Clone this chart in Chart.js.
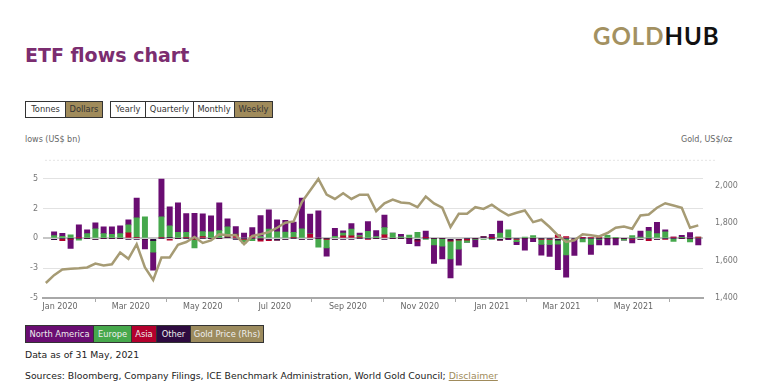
<!DOCTYPE html>
<html><head><meta charset="utf-8">
<script src="https://cdn.jsdelivr.net/npm/chart.js@4"></script>
<style>
body{margin:0;width:769px;height:386px;position:relative;background:#fff;font-family:"DejaVu Sans",sans-serif;overflow:hidden}
.abs{position:absolute;white-space:nowrap}
#title{left:25px;top:44px;font-size:19px;font-weight:bold;color:#7b2d70}
#logo{left:593px;top:21px;font-family:Lato,sans-serif;font-weight:700;font-size:24px;letter-spacing:1px}
#logo .g{color:#a39161}#logo .h{color:#111}
.grp{position:absolute;display:flex;border:1px solid #333;height:15px}
.grp div{font-size:8.3px;line-height:15px;text-align:center;color:#333;border-left:1px solid #333;box-sizing:border-box}
.grp div:first-child{border-left:none}
.sel{background:#a08b5b}
.leg{position:absolute;display:flex;border:1px solid #333;height:16px;top:325px;left:25px}
.leg div{font-size:8.3px;line-height:16px;text-align:center;color:#eee;border-left:1px solid #333;box-sizing:border-box}
.leg div:first-child{border-left:none}
.axt{font-size:8px;color:#666;top:135px}
.note{font-size:9.3px;color:#222;left:25px}
#wrap{position:absolute;left:0;top:150px;width:769px;height:166px}
a{color:#a08b5b;text-decoration:underline}
</style></head><body>
<div class="abs" id="title">ETF flows chart</div>
<div class="abs" id="logo"><span class="g">GOLD</span><span class="h">HUB</span></div>
<div class="grp" style="left:25px;top:101px"><div style="width:39px">Tonnes</div><div class="sel" style="width:37px">Dollars</div></div>
<div class="grp" style="left:110px;top:101px"><div style="width:34px">Yearly</div><div style="width:48px">Quarterly</div><div style="width:41px">Monthly</div><div class="sel" style="width:38px">Weekly</div></div>
<div class="abs axt" style="left:25px">lows (US$ bn)</div>
<div class="abs axt" style="left:681px">Gold, US$/oz</div>
<div id="wrap"><canvas id="c" width="769" height="166"></canvas></div>
<div class="leg"><div style="width:67px;background:#6a0d72">North America</div><div style="width:38px;background:#46a84c">Europe</div><div style="width:25px;background:#b3002d">Asia</div><div style="width:34px;background:#2e0b40">Other</div><div style="width:73px;background:#9c8b5e">Gold Price (Rhs)</div></div>
<div class="abs note" style="top:349px">Data as of 31 May, 2021</div>
<div class="abs note" style="top:370px">Sources: Bloomberg, Company Filings, ICE Benchmark Administration, World Gold Council; <a>Disclaimer</a></div>
<script>
// ---- data (US$ bn weekly flows; gold US$/oz) ----
const weekStart = '2019-12-27';   // first weekly bar
const goldStart = '2019-12-20';   // first gold price point
const northAmerica = [0.33,0.25,-0.8,1.05,0.33,0.5,0.58,0.64,0.66,0.42,1.66,-0.8,-1.5,3.16,1.58,2.47,1.58,2.1,1.5,1.33,2.33,0.68,0.64,0.45,0.7,1.75,1.6,1.0,0.97,0.87,2.58,1.66,2.3,-0.7,0.66,0.17,0.45,0.2,0.83,0.5,1.05,0,0.22,-0.45,-0.4,0.55,-1.55,-1.08,-1.58,-1.35,0,-0.65,0,0.28,1.0,-0.12,-0.25,-1.0,-0.28,-0.9,-1.0,-2.15,-1.88,-1.35,0,-0.85,-0.5,-0.55,-0.55,0,-0.28,0.5,0.33,0.95,0.17,0,0.2,0.48,-0.55];
const europe = [0.22,0.17,0.3,-0.15,0.39,0.8,0.39,0.33,0.39,0.66,1.63,1.8,-0.97,1.72,0.97,0.5,0.42,-0.75,0.42,0.55,0.64,0.83,0.05,-0.28,-0.2,0.15,0.78,0.55,0.53,0.42,0.8,0.05,-0.75,-0.75,0.17,0.25,0.58,0.14,0.58,0.15,0.6,0.45,0.12,0.28,0.5,-0.1,-0.55,-0.65,-1.5,-0.75,-0.2,-0.08,-0.1,-0.05,0.45,0.72,-0.18,0.1,0.22,-0.45,-0.42,-0.33,-1.38,0,-0.3,-0.5,-0.05,0.25,0.08,-0.15,0.22,0.1,0.6,0.4,0.55,-0.25,0.05,-0.3,0];
const asia = [0,-0.2,-0.05,0.08,0,0,0,0,0,0.47,0.08,0,0,0.08,-0.15,0,0.08,-0.05,0.14,0,0,0.05,0.3,-0.1,0.2,-0.18,-0.1,0,0,0.08,0,0.33,0,-0.05,0,0.2,0.2,0.1,-0.08,0,0.3,0,0,0,-0.08,0.05,0,0,-0.08,-0.07,-0.15,0,0,0.05,0,0,-0.1,0,0,-0.06,-0.1,0.3,0.15,-0.08,0.08,0.08,0.08,0,0,0,-0.1,0,-0.2,0,-0.08,0.1,0,0,0.1];
const other = [-0.12,0,0,0,0,-0.08,0,0,0,-0.1,-0.08,-0.08,-0.2,0,0.08,0,0,0,0,0,0,0.08,-0.05,0,0,-0.05,-0.1,-0.15,-0.1,0,-0.08,-0.08,0,0,-0.08,-0.1,-0.1,0,0,0,-0.1,0,0,0,-0.15,0,0,0,-0.15,-0.08,0,0,0.12,0,-0.15,0,0,0,0,0,0,-0.15,0,0,0,0,0,0,0,0,0,-0.1,0,-0.1,0,0,0,0,0];
const goldPrice = [1480,1522,1552,1556,1559,1563,1584,1574,1580,1643,1609,1687,1563,1496,1616,1616,1684,1699,1726,1694,1708,1740,1735,1735,1687,1731,1740,1752,1775,1802,1809,1912,1974,2036,1952,1929,1959,1929,1952,1952,1864,1906,1926,1910,1906,1885,1942,1905,1882,1779,1850,1850,1885,1876,1898,1867,1841,1855,1867,1805,1818,1779,1735,1699,1708,1740,1735,1729,1747,1775,1782,1770,1841,1846,1882,1906,1894,1882,1775,1788];
const xTickDates = ['2020-01-01','2020-03-01','2020-05-01','2020-07-01','2020-09-01','2020-11-01','2021-01-01','2021-03-01','2021-05-01'];
const xTickLabels = ['Jan 2020','Mar 2020','May 2020','Jul 2020','Sep 2020','Nov 2020','Jan 2021','Mar 2021','May 2021'];
const yTicks = [-5,-2.5,0,2.5,5];
const yTickLabels = ['-5','-3','0','2','5'];
const y2Ticks = [1400,1600,1800,2000];
const y2TickLabels = ['1,400','1,600','1,800','2,000'];

const DAY = 86400000, BASE = Date.UTC(2020,0,1);
const dayNum = s => (Date.parse(s + 'T00:00:00Z') - BASE) / DAY;
const w0 = dayNum(weekStart), g0 = dayNum(goldStart);
const barX = northAmerica.map((_, i) => w0 + 7 * i);
const goldX = goldPrice.map((_, i) => g0 + 7 * i);
const tickDays = xTickDates.map(dayNum);
const pts = (arr, xs) => arr.map((v, i) => ({x: xs[i], y: v}));

const topLine = {
  id: 'topLine',
  beforeDraw(chart) {
    const c = chart.ctx, t = chart.chartArea.top;
    c.save(); c.strokeStyle = '#e4e4e4'; c.lineWidth = 1; c.setLineDash([2, 2]);
    c.beginPath(); c.moveTo(45, t + 0.5); c.lineTo(715, t + 0.5); c.stroke(); c.restore();
  }
};
const bar = (label, data, color) => ({type: 'bar', label, data: pts(data, barX), backgroundColor: color, barThickness: 5.3, borderWidth: 0, yAxisID: 'y', order: 1});
const tickFont = {family: 'DejaVu Sans', size: 8};

new Chart(document.getElementById('c'), {
  type: 'bar',
  data: {datasets: [
    bar('Other', other, '#2e0b40'),
    bar('Asia', asia, '#b3002d'),
    bar('Europe', europe, '#46a84c'),
    bar('North America', northAmerica, '#6a0d72'),
    {type: 'line', label: 'Gold Price (Rhs)', data: pts(goldPrice, goldX), yAxisID: 'y2', borderColor: '#a69b74', borderWidth: 2.5, pointRadius: 0, tension: 0, order: 0}
  ]},
  options: {
    responsive: false, animation: false, events: [],
    layout: {padding: {top: 9, left: 0, right: 0, bottom: 0}},
    plugins: {legend: {display: false}, tooltip: {enabled: false}},
    scales: {
      x: {type: 'linear', min: -14.4, max: 545, stacked: true, offset: false,
        afterBuildTicks: s => { s.ticks = tickDays.map(v => ({value: v})); },
        afterFit: s => { s.height = 18; },
        ticks: {autoSkip: false, maxRotation: 0, padding: 0, color: '#666', font: tickFont,
          callback: (v, i) => xTickLabels[i]},
        grid: {drawOnChartArea: false, drawTicks: true, tickLength: 4, color: '#aaa'},
        border: {display: true, color: '#a8a8a8', width: 2}
      },
      y: {position: 'left', stacked: true, min: -5, max: 6.58,
        afterBuildTicks: s => { s.ticks = yTicks.map(v => ({value: v})); },
        afterFit: s => { s.width = 43; },
        ticks: {padding: 5, color: '#777', font: tickFont, callback: (v, i) => yTickLabels[i]},
        grid: {drawTicks: false, color: c => c.tick && c.tick.value === 0 ? '#c6c6c6' : '#e2e2e2', lineWidth: c => c.tick && c.tick.value === 0 ? 2 : 1},
        border: {display: false}
      },
      y2: {position: 'right', min: 1400, max: 2138,
        afterBuildTicks: s => { s.ticks = y2Ticks.map(v => ({value: v})); },
        afterFit: s => { s.width = 66; },
        ticks: {padding: 4, color: '#777', font: tickFont, callback: (v, i) => y2TickLabels[i]},
        grid: {display: false}, border: {display: false}
      }
    }
  },
  plugins: [topLine]
});
</script>
</body></html>
